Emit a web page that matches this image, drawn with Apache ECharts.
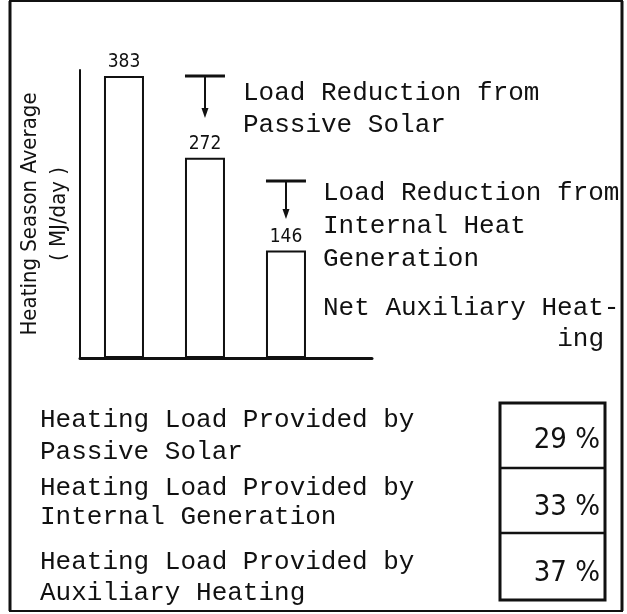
<!DOCTYPE html>
<html>
<head>
<meta charset="utf-8">
<script src="https://cdn.jsdelivr.net/npm/echarts@6/dist/echarts.min.js"></script>
<style>
  html, body { margin: 0; padding: 0; background: #fff; }
  #chart { width: 627px; height: 614px; }
</style>
</head>
<body>
<div id="chart"></div>
<script>
// Heating season average loads (MJ/day) at each stage
const stages = ['Total Load', 'After Passive Solar', 'Net Auxiliary Heating'];
const loadValues = [383, 272, 146];

// Share of the heating load met by each source (%)
const shareLabels = [
  ['Heating Load Provided by', 'Passive Solar'],
  ['Heating Load Provided by', 'Internal Generation'],
  ['Heating Load Provided by', 'Auxiliary Heating']
];
const sharePercents = [29, 33, 37];

const yAxisTitle = ['Heating Season Average', '( MJ/day )'];

const mono = '"Liberation Mono", "Courier New", monospace';
const hand = '"Liberation Sans Narrow", "DejaVu Sans Condensed", sans-serif';
const ink = '#111';

const chart = echarts.init(document.getElementById('chart'), null, { renderer: 'canvas' });

// stem + crossbar + arrowhead used for the load-reduction markers
function reductionMarker(cx, yTop, yTip) {
  return [
    { type: 'line', shape: { x1: cx - 20, y1: yTop, x2: cx + 20, y2: yTop }, style: { stroke: ink, lineWidth: 3 } },
    { type: 'line', shape: { x1: cx, y1: yTop, x2: cx, y2: yTip - 6 }, style: { stroke: ink, lineWidth: 2 } },
    { type: 'polygon', shape: { points: [[cx - 3.5, yTip - 10], [cx + 3.5, yTip - 10], [cx, yTip]] }, style: { fill: ink } }
  ];
}

function textLine(str, x, y, opts) {
  return Object.assign({
    type: 'text',
    style: { text: str, x: x, y: y, font: '26px ' + mono, fill: ink, textVerticalAlign: 'middle' }
  }, opts || {});
}

const graphics = [];

// outer frame
graphics.push({ type: 'rect', shape: { x: 10, y: 1, width: 612, height: 610 }, style: { fill: null, stroke: ink, lineWidth: 2 } });
graphics.push({ type: 'line', shape: { x1: 10, y1: 1, x2: 10, y2: 611 }, style: { stroke: ink, lineWidth: 3 } });
graphics.push({ type: 'line', shape: { x1: 622, y1: 1, x2: 622, y2: 611 }, style: { stroke: ink, lineWidth: 3 } });

// annotation text beside the bars
graphics.push(textLine('Load Reduction from', 243, 93));
graphics.push(textLine('Passive Solar', 243, 125));
graphics.push(textLine('Load Reduction from', 323, 193));
graphics.push(textLine('Internal Heat', 323, 226));
graphics.push(textLine('Generation', 323, 259));
graphics.push(textLine('Net Auxiliary Heat-', 323, 308));
graphics.push({ type: 'text', style: { text: 'ing', x: 604, y: 339, font: '26px ' + mono, fill: ink, textAlign: 'right', textVerticalAlign: 'middle' } });

// share table: descriptions on the left, boxed percentages on the right
const rowY = [[420, 452], [488, 517], [562, 593]];
const boxTop = 403, boxBottom = 600, boxLeft = 500, boxRight = 605;
const dividers = [468, 533];
const pctY = [440, 507, 573];
shareLabels.forEach(function (lines, i) {
  graphics.push(textLine(lines[0], 40, rowY[i][0]));
  graphics.push(textLine(lines[1], 40, rowY[i][1]));
  graphics.push({
    type: 'text',
    style: {
      text: sharePercents[i] + ' %', x: 600, y: pctY[i],
      font: '29px ' + hand, fill: ink, textAlign: 'right', textVerticalAlign: 'middle'
    }
  });
});
graphics.push({ type: 'rect', shape: { x: boxLeft, y: boxTop, width: boxRight - boxLeft, height: boxBottom - boxTop }, style: { fill: null, stroke: ink, lineWidth: 3 } });
dividers.forEach(function (y) {
  graphics.push({ type: 'line', shape: { x1: boxLeft, y1: y, x2: boxRight, y2: y }, style: { stroke: ink, lineWidth: 2.5 } });
});

const option = {
  animation: false,
  backgroundColor: '#fff',
  grid: { left: 80, right: 255, top: 70, bottom: 256, containLabel: false },
  xAxis: {
    type: 'value',
    min: 0.457,
    max: 4.062,
    axisLine: { show: true, onZero: false, lineStyle: { color: ink, width: 3 } },
    axisTick: { show: false },
    axisLabel: { show: false },
    splitLine: { show: false }
  },
  yAxis: {
    type: 'value',
    min: 0,
    max: 391,
    name: yAxisTitle.join('\n'),
    nameLocation: 'middle',
    nameRotate: 90,
    nameGap: 6,
    nameTextStyle: { fontFamily: hand, fontSize: 22, color: ink, lineHeight: 29, align: 'center' },
    axisLine: { show: true, lineStyle: { color: ink, width: 2 } },
    axisTick: { show: false },
    axisLabel: { show: false },
    splitLine: { show: false }
  },
  series: [{
    type: 'bar',
    barWidth: 40,
    data: loadValues.map(function (v, i) { return { name: stages[i], value: [i + 1, v] }; }),
    itemStyle: { color: '#fff', borderColor: ink, borderWidth: 2 },
    label: {
      show: true,
      position: 'top',
      distance: 4,
      fontFamily: hand,
      fontSize: 19,
      color: ink,
      formatter: function (p) { return p.value[1]; }
    }
  }]
};

chart.setOption(option);

// reduction markers sit above the second and third bars
const p2 = chart.convertToPixel({ gridIndex: 0 }, [2, loadValues[0]]);
const p3 = chart.convertToPixel({ gridIndex: 0 }, [3, loadValues[1]]);
reductionMarker(p2[0], p2[1], 118).forEach(function (g) { graphics.push(g); });
reductionMarker(p3[0], 181, 219).forEach(function (g) { graphics.push(g); });

chart.setOption({ graphic: { elements: graphics } });
</script>
</body>
</html>
